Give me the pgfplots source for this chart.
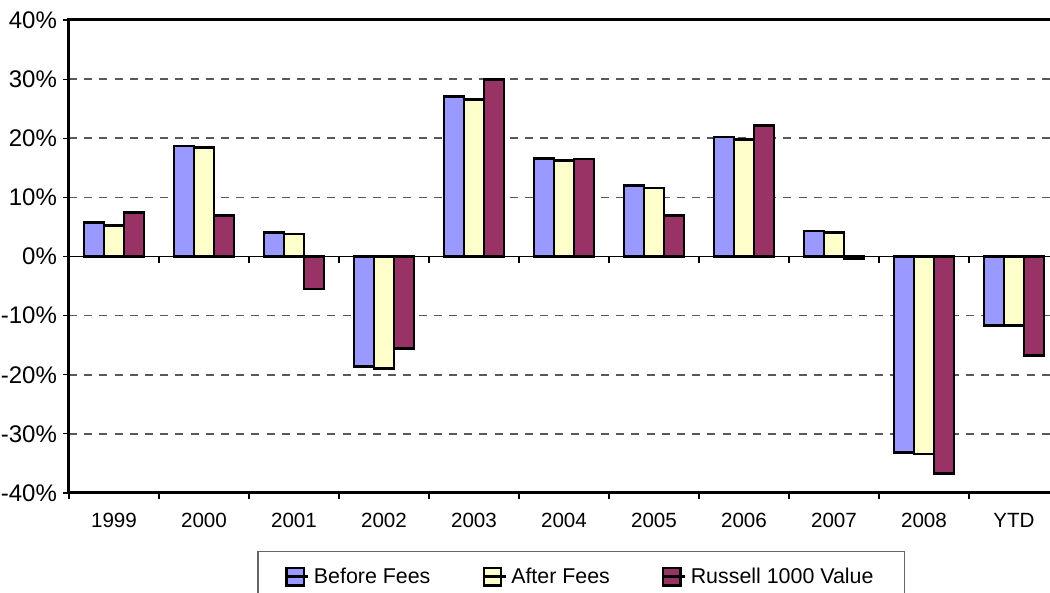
\documentclass[border=0pt]{standalone}
\usepackage{fontspec}
\setmainfont{Liberation Sans}
\usepackage{pgfplots}
\pgfplotsset{compat=1.18}
\usetikzlibrary{calc}
\definecolor{cBefore}{HTML}{9999FF}
\definecolor{cAfter}{HTML}{FFFFCC}
\definecolor{cRussell}{HTML}{993366}
\begin{document}
\begin{tikzpicture}
\begin{axis}[
  name=ax,
  width=495pt, height=236.5pt, scale only axis,
  xmin=-0.5, xmax=10.5, ymin=-40, ymax=40,
  ybar=0pt, bar width=10pt,
  axis line style={line width=1.5pt},
  tick pos=left,
  tick align=outside,
  major tick length=3pt,
  tick style={black, line width=0.6pt},
  ytick={-40,-30,...,40},
  yticklabels={-40\%,-30\%,-20\%,-10\%,0\%,10\%,20\%,30\%,40\%},
  xtick={-0.5,0.5,...,9.5},
  xticklabels={},
  extra x ticks={0,1,...,10},
  extra x tick labels={1999,2000,2001,2002,2003,2004,2005,2006,2007,2008,YTD},
  extra x tick style={major tick length=0pt, grid=none},
  ymajorgrids,
  grid style={black!65, dash pattern=on 4pt off 3.6pt, line width=0.8pt},
  yticklabel style={font=\fontsize{12}{14}\selectfont, xshift=0.5pt},
  xticklabel style={font=\fontsize{10.3}{12}\selectfont, yshift=-6.5pt},
  legend columns=3,
  legend style={at={(0.5175,-0.1226)}, anchor=north, draw=black!60, line width=0.6pt,
    font=\fontsize{10.7}{13}\selectfont, inner xsep=13.5pt, inner ysep=6pt,
    /tikz/every even column/.append style={column sep=24pt}},
  legend image code/.code={\draw[#1, line width=1.1pt] (0pt,-4.3pt) rectangle (8.6pt,4.3pt); \path (0pt,0pt) -- (11pt,0pt);},
  every axis plot/.append style={draw=black, line width=1.4pt},
]
\draw[black, line width=0.7pt] (axis cs:-0.5,0) -- (axis cs:10.5,0);
\pgfplotsinvokeforeach{0.5,1.5,...,9.5}{
  \draw[black, line width=0.6pt] (axis cs:#1,0) -- ([yshift=-3.5pt]axis cs:#1,0);
}
\addplot[fill=cBefore] coordinates {(0,5.7) (1,18.7) (2,4.1) (3,-18.6) (4,27.1) (5,16.6) (6,12.0) (7,20.2) (8,4.3) (9,-33.1) (10,-11.7)};
\addplot[fill=cAfter] coordinates {(0,5.3) (1,18.4) (2,3.8) (3,-18.9) (4,26.6) (5,16.2) (6,11.6) (7,19.8) (8,4.0) (9,-33.4) (10,-11.7)};
\addplot[fill=cRussell] coordinates {(0,7.4) (1,7.0) (2,-5.5) (3,-15.5) (4,30.0) (5,16.5) (6,7.0) (7,22.2) (8,-0.3) (9,-36.7) (10,-16.7)};
\legend{Before Fees, After Fees, Russell 1000 Value}
\end{axis}
\pgfresetboundingbox
\path[use as bounding box] ($(ax.south west)+(-34.5pt,-50pt)$) rectangle ($(ax.north west)+(490.5pt,10pt)$);
\end{tikzpicture}
\end{document}
